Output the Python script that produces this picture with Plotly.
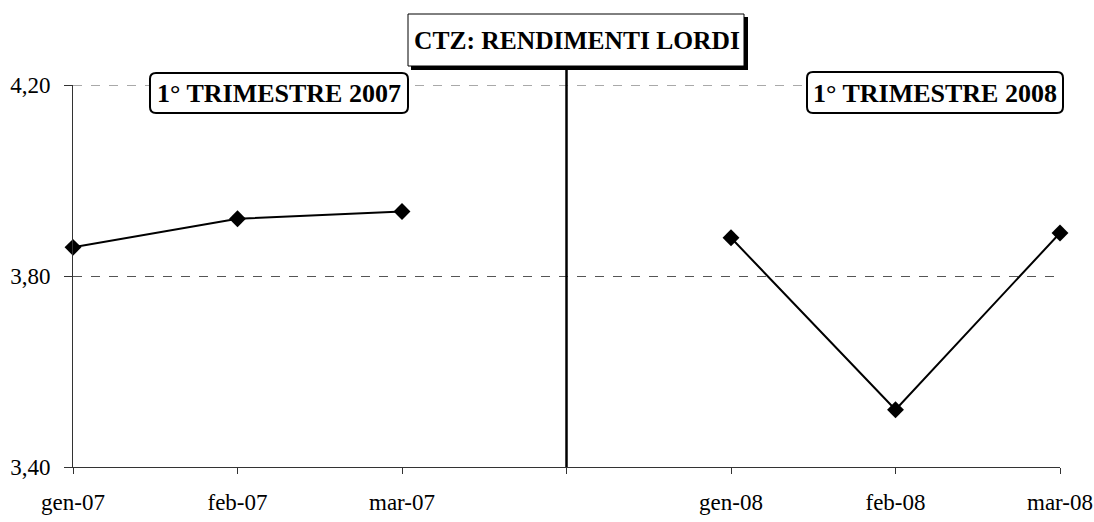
import plotly.graph_objects as go

# ---- data ----
categories = ["gen-07", "feb-07", "mar-07", "", "gen-08", "feb-08", "mar-08"]
rendimenti = [3.86, 3.92, 3.935, None, 3.88, 3.52, 3.89]
y_ticks = [3.40, 3.80, 4.20]
title_text = "CTZ: RENDIMENTI LORDI"
label_2007 = "1° TRIMESTRE 2007"
label_2008 = "1° TRIMESTRE 2008"

W, H = 1094, 522
ML, MR, MT, MB = 73, 34, 85, 55
PW = W - ML - MR
PH = H - MT - MB

def px(x):
    return (x - ML) / PW

def py(y):
    return (H - MB - y) / PH

def rounded_path(x0, y0, x1, y1, r=6):
    def P(x, y):
        return f"{px(x):.5f},{py(y):.5f}"
    return (f"M {P(x0 + r, y0)} L {P(x1 - r, y0)} Q {P(x1, y0)} {P(x1, y0 + r)} "
            f"L {P(x1, y1 - r)} Q {P(x1, y1)} {P(x1 - r, y1)} "
            f"L {P(x0 + r, y1)} Q {P(x0, y1)} {P(x0, y1 - r)} "
            f"L {P(x0, y0 + r)} Q {P(x0, y0)} {P(x0 + r, y0)} Z")

xs = list(range(len(categories)))

fig = go.Figure()
fig.add_trace(go.Scatter(
    x=xs, y=rendimenti, mode="lines+markers",
    line=dict(color="black", width=2),
    marker=dict(symbol="diamond", size=13, color="black"),
    connectgaps=False, cliponaxis=False, showlegend=False,
))

shapes = [
    # dashed gridline at top value
    dict(type="line", xref="paper", yref="y", x0=0, x1=1, y0=y_ticks[-1], y1=y_ticks[-1],
         line=dict(color="#555", width=1, dash="dash"), layer="below"),
    # vertical separator at the blank category
    dict(type="line", xref="x", yref="paper", x0=3, x1=3, y0=0, y1=py(68),
         line=dict(color="black", width=2.5), layer="above"),
    # title box shadow + box
    dict(type="rect", xref="paper", yref="paper", x0=px(411), x1=px(748), y0=py(70), y1=py(17),
         fillcolor="black", line=dict(width=0), layer="above"),
    dict(type="rect", xref="paper", yref="paper", x0=px(408), x1=px(744), y0=py(66), y1=py(14),
         fillcolor="white", line=dict(color="black", width=1), layer="above"),
    # rounded boxes
    dict(type="path", xref="paper", yref="paper", path=rounded_path(150, 73, 408, 113),
         fillcolor="white", line=dict(color="black", width=2), layer="above"),
    dict(type="path", xref="paper", yref="paper", path=rounded_path(807, 72, 1063, 113),
         fillcolor="white", line=dict(color="black", width=2), layer="above"),
]

serif = "Liberation Serif, Times New Roman, serif"
annotations = [
    dict(text=f"<b>{title_text}</b>", xref="paper", yref="paper", x=px(577), y=py(41),
         showarrow=False, font=dict(family=serif, size=25.5, color="black"),
         xanchor="center", yanchor="middle"),
    dict(text=f"<b>{label_2007}</b>", xref="paper", yref="paper", x=px(279), y=py(93),
         showarrow=False, font=dict(family=serif, size=26, color="black"),
         xanchor="center", yanchor="middle"),
    dict(text=f"<b>{label_2008}</b>", xref="paper", yref="paper", x=px(935), y=py(93),
         showarrow=False, font=dict(family=serif, size=26, color="black"),
         xanchor="center", yanchor="middle"),
]

tick_font = dict(family=serif, size=23, color="black")

fig.update_layout(
    width=W, height=H,
    margin=dict(l=ML, r=MR, t=MT, b=MB, autoexpand=False),
    plot_bgcolor="white", paper_bgcolor="white",
    separators=",.",
    shapes=shapes, annotations=annotations,
    xaxis=dict(
        range=[0, len(categories) - 1], tickmode="array", tickvals=xs, ticktext=categories,
        showgrid=False, zeroline=False, showline=True, linecolor="#333", linewidth=1,
        ticks="outside", ticklen=6, tickcolor="#333", tickfont=tick_font,
        ticklabelstandoff=8, automargin=False,
    ),
    yaxis=dict(
        range=[3.40, 4.20], tickmode="array", tickvals=y_ticks, tickformat=".2f",
        showgrid=True, gridcolor="#555", griddash="dash", gridwidth=1,
        zeroline=False, showline=True, linecolor="#333", linewidth=1,
        ticks="outside", ticklen=8, tickcolor="#333", tickfont=tick_font,
        ticklabelstandoff=9, automargin=False,
    ),
)

fig.write_html("out.html", config={"displayModeBar": False},
               post_script="document.body.style.margin='0';document.body.style.padding='0';")
